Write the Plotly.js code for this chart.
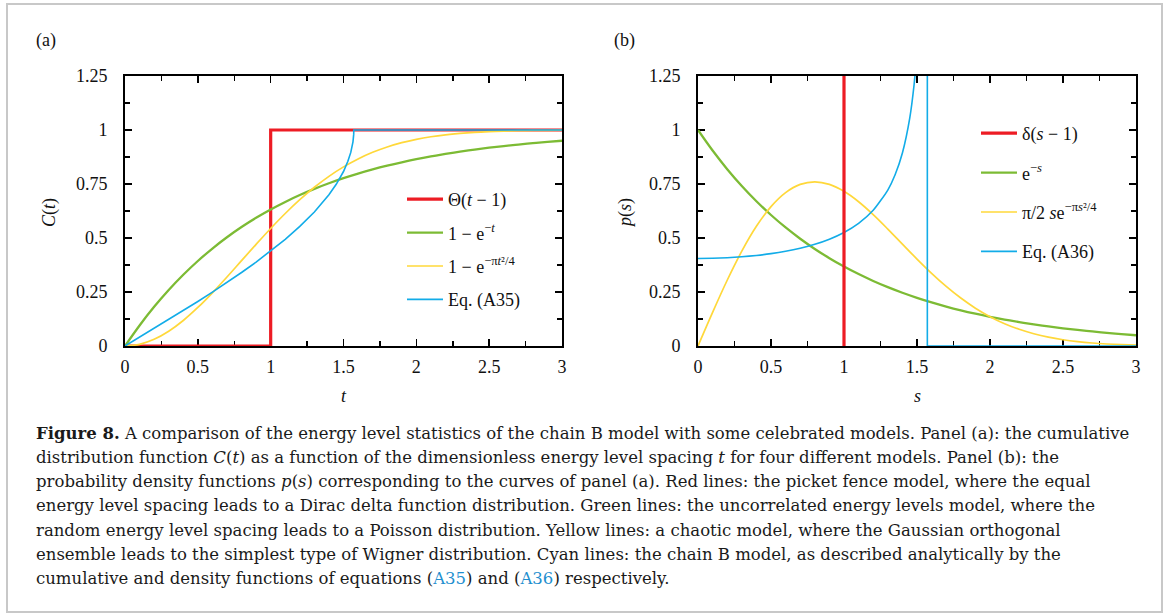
<!DOCTYPE html>
<html>
<head>
<meta charset="utf-8">
<script src="https://cdn.plot.ly/plotly-3.0.1.min.js"></script>
<style>html,body{margin:0;padding:0;background:#fff;}#chart{width:1167px;height:615px;}</style>
</head>
<body>
<div id="chart"></div>
<script>
// ---------- data ----------
const tGrid = [0,0.1,0.2,0.3,0.4,0.5,0.6,0.7,0.8,0.9,1.0,1.1,1.2,1.3,1.4,1.5,1.6,1.7,1.8,1.9,2.0,2.1,2.2,2.3,2.4,2.5,2.6,2.7,2.8,2.9,3.0];

// Panel (a): cumulative distributions C(t)
const stepT = [0, 1, 1, 3];
const stepC = [0, 0, 1, 1];
const poissonC = [0,0.0952,0.1813,0.2592,0.3297,0.3935,0.4512,0.5034,0.5507,0.5934,0.6321,0.6671,0.6988,0.7275,0.7534,0.7769,0.7981,0.8173,0.8347,0.8504,0.8647,0.8775,0.8892,0.8997,0.9093,0.9179,0.9257,0.9328,0.9392,0.9450,0.9502];
const wignerC = [0,0.0078,0.0309,0.0682,0.1181,0.1783,0.2463,0.3194,0.3951,0.4707,0.5441,0.6134,0.6773,0.7348,0.7855,0.8292,0.8661,0.8967,0.9215,0.9413,0.9568,0.9687,0.9777,0.9843,0.9892,0.9926,0.9951,0.9967,0.9979,0.9986,0.9991];
const chainT = [0,0.1,0.2,0.3,0.4,0.5,0.6,0.7,0.8,0.9,1.0,1.1,1.2,1.3,1.4,1.45,1.5,1.53,1.55,1.56,1.565,1.57,1.5708,3.0];
const chainC = [0,0.0406,0.0813,0.1223,0.1639,0.2062,0.2495,0.2940,0.3402,0.3884,0.4393,0.4939,0.5535,0.6204,0.7007,0.7487,0.8078,0.8549,0.8964,0.9254,0.9452,0.9797,1.0,1.0];

// Panel (b): densities p(s)
const deltaS = [1, 1];
const deltaP = [0, 1.3];
const poissonP = [1,0.9048,0.8187,0.7408,0.6703,0.6065,0.5488,0.4966,0.4493,0.4066,0.3679,0.3329,0.3012,0.2725,0.2466,0.2231,0.2019,0.1827,0.1653,0.1496,0.1353,0.1225,0.1108,0.1003,0.0907,0.0821,0.0743,0.0672,0.0608,0.0550,0.0498];
const wignerP = [0,0.1559,0.3044,0.4391,0.5541,0.6454,0.7103,0.7483,0.7601,0.7483,0.7162,0.6680,0.6083,0.5415,0.4718,0.4025,0.3365,0.2759,0.2220,0.1752,0.1358,0.1033,0.0772,0.0567,0.0409,0.0290,0.0202,0.0138,0.0093,0.0062,0.0040];
const chainS = [0,0.1,0.2,0.3,0.4,0.5,0.6,0.7,0.8,0.9,1.0,1.1,1.2,1.3,1.35,1.4,1.45,1.48,1.5];
const chainP = [0.405,0.4061,0.4086,0.4129,0.4191,0.4275,0.4385,0.4527,0.4709,0.4945,0.5255,0.5677,0.6281,0.7220,0.7928,0.8937,1.0539,1.2095,1.3654];
const chainTailS = [1.5708, 1.5708, 3.0];
const chainTailP = [1.3, 0, 0];

const legendA = ['\u0398(<i>t</i> \u2212 1)', '1 \u2212 e<sup>\u2212<i>t</i></sup>', '1 \u2212 e<sup>\u2212\u03c0<i>t</i>\u00b2/4</sup>', 'Eq. (A35)'];
const legendB = ['\u03b4(<i>s</i> \u2212 1)', 'e<sup>\u2212<i>s</i></sup>', '\u03c0/2 <i>s</i>e<sup>\u2212\u03c0<i>s</i>\u00b2/4</sup>', 'Eq. (A36)'];

const captionLines = [
  '<b>Figure 8.</b> A comparison of the energy level statistics of the chain B model with some celebrated models. Panel (a): the cumulative',
  'distribution function <i>C</i>(<i>t</i>) as a function of the dimensionless energy level spacing <i>t</i> for four different models. Panel (b): the',
  'probability density functions <i>p</i>(<i>s</i>) corresponding to the curves of panel (a). Red lines: the picket fence model, where the equal',
  'energy level spacing leads to a Dirac delta function distribution. Green lines: the uncorrelated energy levels model, where the',
  'random energy level spacing leads to a Poisson distribution. Yellow lines: a chaotic model, where the Gaussian orthogonal',
  'ensemble leads to the simplest type of Wigner distribution. Cyan lines: the chain B model, as described analytically by the',
  'cumulative and density functions of equations (<span style="color:#1f8fcf">A35</span>) and (<span style="color:#1f8fcf">A36</span>) respectively.'
];

// ---------- styling ----------
const W = 1167, H = 615;
const px = v => v / W;
const py = v => 1 - v / H;
const RED = '#ed1c24', GREEN = '#7cbb34', YELLOW = '#ffd83a', CYAN = '#12ace8';
const SERIF = "'Liberation Serif', 'DejaVu Serif', serif";
const CAPFONT = "'DejaVu Serif', serif";

const traces = [
  // panel (a)
  {x: stepT, y: stepC, xaxis:'x', yaxis:'y', mode:'lines', line:{color:RED, width:3.2}, name: legendA[0], legend:'legend', legendgroup:'ar', legendrank:1},
  {x: tGrid, y: poissonC, xaxis:'x', yaxis:'y', mode:'lines', line:{color:GREEN, width:2.3, shape:'spline'}, name: legendA[1], legend:'legend', legendgroup:'ag', legendrank:2},
  {x: tGrid, y: wignerC, xaxis:'x', yaxis:'y', mode:'lines', line:{color:YELLOW, width:1.7, shape:'spline'}, name: legendA[2], legend:'legend', legendgroup:'ay', legendrank:3},
  {x: chainT, y: chainC, xaxis:'x', yaxis:'y', mode:'lines', line:{color:CYAN, width:1.6}, name: legendA[3], legend:'legend', legendgroup:'ac', legendrank:4},
  // panel (b)
  {x: tGrid, y: poissonP, xaxis:'x2', yaxis:'y2', mode:'lines', line:{color:GREEN, width:2.3, shape:'spline'}, name: legendB[1], legend:'legend2', legendgroup:'bg', legendrank:2},
  {x: tGrid, y: wignerP, xaxis:'x2', yaxis:'y2', mode:'lines', line:{color:YELLOW, width:1.7, shape:'spline'}, name: legendB[2], legend:'legend2', legendgroup:'by', legendrank:3},
  {x: chainS, y: chainP, xaxis:'x2', yaxis:'y2', mode:'lines', line:{color:CYAN, width:1.6, shape:'spline', smoothing:0.6}, name: legendB[3], legend:'legend2', legendgroup:'bc', legendrank:4},
  {x: chainTailS, y: chainTailP, xaxis:'x2', yaxis:'y2', mode:'lines', line:{color:CYAN, width:1.6}, showlegend:false, legend:'legend2', legendgroup:'bc'},
  {x: deltaS, y: deltaP, xaxis:'x2', yaxis:'y2', mode:'lines', line:{color:RED, width:3.2}, name: legendB[0], legend:'legend2', legendgroup:'br', legendrank:1}
];

function axisX(domain, anchor) {
  return {domain: domain, anchor: anchor, range:[0,3], tick0:0, dtick:0.5,
    ticks:'inside', ticklen:7, tickwidth:1.5, tickcolor:'#000',
    minor:{ticks:'inside', dtick:0.25, tick0:0, ticklen:5, tickwidth:1.5, tickcolor:'#000'},
    showline:true, linecolor:'#000', linewidth:2, mirror:'ticks',
    showgrid:false, zeroline:false, layer:'below traces',
    tickfont:{family:SERIF, size:18, color:'#111'}, ticklabelstandoff:3};
}
function axisY(domain, anchor) {
  return {domain: domain, anchor: anchor, range:[0,1.25], tick0:0, dtick:0.25,
    ticks:'inside', ticklen:7, tickwidth:1.5, tickcolor:'#000',
    minor:{ticks:'inside', dtick:0.125, tick0:0, ticklen:5, tickwidth:1.5, tickcolor:'#000'},
    showline:true, linecolor:'#000', linewidth:2, mirror:'ticks',
    showgrid:false, zeroline:false, layer:'below traces',
    tickfont:{family:SERIF, size:18, color:'#111'}, ticklabelstandoff:12};
}

const yDom = [py(346), py(76)];
const legendCommon = {xanchor:'left', yanchor:'top', bgcolor:'rgba(0,0,0,0)', borderwidth:0,
  font:{family:SERIF, size:18, color:'#111'}, traceorder:'grouped', itemclick:false, itemwidth:36};

const ann = [];
function txt(text, x, y, opts) {
  ann.push(Object.assign({text:text, xref:'paper', yref:'paper', x:px(x), y:py(y), showarrow:false,
    font:{family:SERIF, size:18, color:'#111'}}, opts || {}));
}
txt('(a)', 34, 41, {xanchor:'left', yanchor:'middle'});
txt('(b)', 612, 41, {xanchor:'left', yanchor:'middle'});
txt('<i>C</i>(<i>t</i>)', 50, 213, {xanchor:'center', yanchor:'middle', textangle:-90});
txt('<i>t</i>', 344, 396, {xanchor:'center', yanchor:'middle'});
txt('<i>p</i>(<i>s</i>)', 626, 213, {xanchor:'center', yanchor:'middle', textangle:-90});
txt('<i>s</i>', 917, 396, {xanchor:'center', yanchor:'middle'});

const capY = [433, 457, 481, 505, 530, 554, 578];
captionLines.forEach((line, i) => {
  txt(line, 34, capY[i], {xanchor:'left', yanchor:'middle', align:'left',
    font:{family:CAPFONT, size:16.5, color:'#1a1a1a'}});
});

const layout = {
  width: W, height: H,
  margin:{l:0, r:0, t:0, b:0},
  paper_bgcolor:'#fff', plot_bgcolor:'rgba(0,0,0,0)',
  xaxis: axisX([px(125), px(562)], 'y'),
  yaxis: axisY(yDom, 'x'),
  xaxis2: axisX([px(698), px(1136)], 'y2'),
  yaxis2: axisY(yDom, 'x2'),
  legend: Object.assign({x:px(402), y:py(181), tracegroupgap:7}, legendCommon),
  legend2: Object.assign({x:px(976), y:py(115), tracegroupgap:13}, legendCommon),
  annotations: ann,
  shapes:[{type:'rect', xref:'paper', yref:'paper', x0:px(7), x1:px(1162), y0:py(612), y1:py(4),
    line:{color:'#c8c8c8', width:2}, fillcolor:'rgba(0,0,0,0)', layer:'below'}]
};

Plotly.newPlot('chart', traces, layout, {staticPlot:true, displayModeBar:false});
</script>
</body>
</html>
